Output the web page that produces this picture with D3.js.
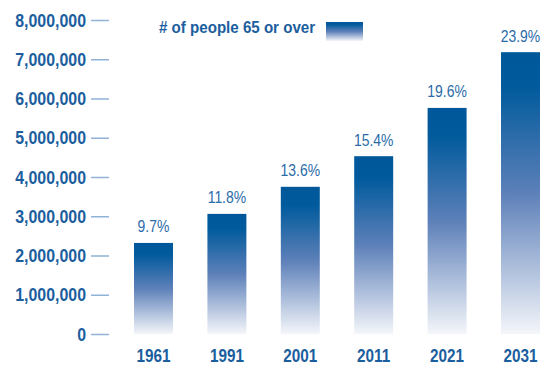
<!DOCTYPE html>
<html><head><meta charset="utf-8">
<script src="https://cdn.jsdelivr.net/npm/d3@7"></script>
<style>
body{margin:0;background:#fff;}
svg{display:block;}
</style></head>
<body>
<svg id="c" width="542" height="366"></svg>
<script>
const years = ["1961","1991","2001","2011","2021","2031"];
const people = [2320000, 3060000, 3750000, 4530000, 5760000, 7180000];
const percents = ["9.7%","11.8%","13.6%","15.4%","19.6%","23.9%"];
const yTicks = [0,1000000,2000000,3000000,4000000,5000000,6000000,7000000,8000000];
const legendLabel = "# of people 65 or over";

const font = "'Liberation Sans',Arial,sans-serif";
const textColor = "#1b5e9e";
const svg = d3.select("#c");

const defs = svg.append("defs");
const g = defs.append("linearGradient").attr("id","grad").attr("x1",0).attr("y1",0).attr("x2",0).attr("y2",1);
g.append("stop").attr("offset","0%").attr("stop-color","#00589b");
g.append("stop").attr("offset","12%").attr("stop-color","#005a9c");
g.append("stop").attr("offset","50%").attr("stop-color","#5d80b9");
g.append("stop").attr("offset","100%").attr("stop-color","#f4f6fa");

const y = d3.scaleLinear().domain([0,8000000]).range([334,20]);
const x = d3.scaleBand().domain(years).range([116.8,557.2]).paddingInner(0.469).paddingOuter(0.2345);

const yAxis = d3.axisLeft(y).tickValues(yTicks).tickSize(18).tickPadding(5).tickFormat(d3.format(","));
const ya = svg.append("g").attr("transform","translate(109,0)").call(yAxis);
ya.select(".domain").remove();
ya.selectAll(".tick line").attr("stroke","#8fb2d6").attr("stroke-width",1.5);
ya.selectAll(".tick text").attr("fill",textColor).style("font-family",font).style("font-weight","bold").style("font-size","17.7px")
  .attr("dy","0.35em").attr("x",null).attr("text-anchor","end").attr("transform","translate(-23,0) scale(0.9,1)");

svg.selectAll("rect.bar").data(years).join("rect").attr("class","bar")
  .attr("x",d=>x(d)).attr("width",x.bandwidth())
  .attr("y",(d,i)=>y(people[i])).attr("height",(d,i)=>y(0)-y(people[i]))
  .attr("fill","url(#grad)");

svg.selectAll("text.pct").data(years).join("text").attr("class","pct")
  .attr("transform",(d,i)=>`translate(${x(d)+x.bandwidth()/2},${y(people[i])-10.5}) scale(0.83,1)`)
  .attr("text-anchor","middle").attr("fill","#2b6ba9")
  .style("font-family",font).style("font-size","16.8px")
  .text((d,i)=>percents[i]);

const xAxis = d3.axisBottom(x).tickSize(0).tickPadding(0);
const xa = svg.append("g").attr("transform","translate(0,362)").call(xAxis);
xa.select(".domain").remove();
xa.selectAll(".tick text").attr("fill",textColor).attr("y",null).attr("dy",null).attr("transform","scale(0.875,1)")
  .style("font-family",font).style("font-weight","bold").style("font-size","17.5px");

svg.append("text").attr("transform","translate(159,33.3) scale(0.945,1)").attr("fill",textColor)
  .style("font-family",font).style("font-weight","bold").style("font-size","16px").text(legendLabel);
svg.append("rect").attr("x",326).attr("y",22).attr("width",37).attr("height",19).attr("fill","url(#grad)");
</script>
</body></html>
